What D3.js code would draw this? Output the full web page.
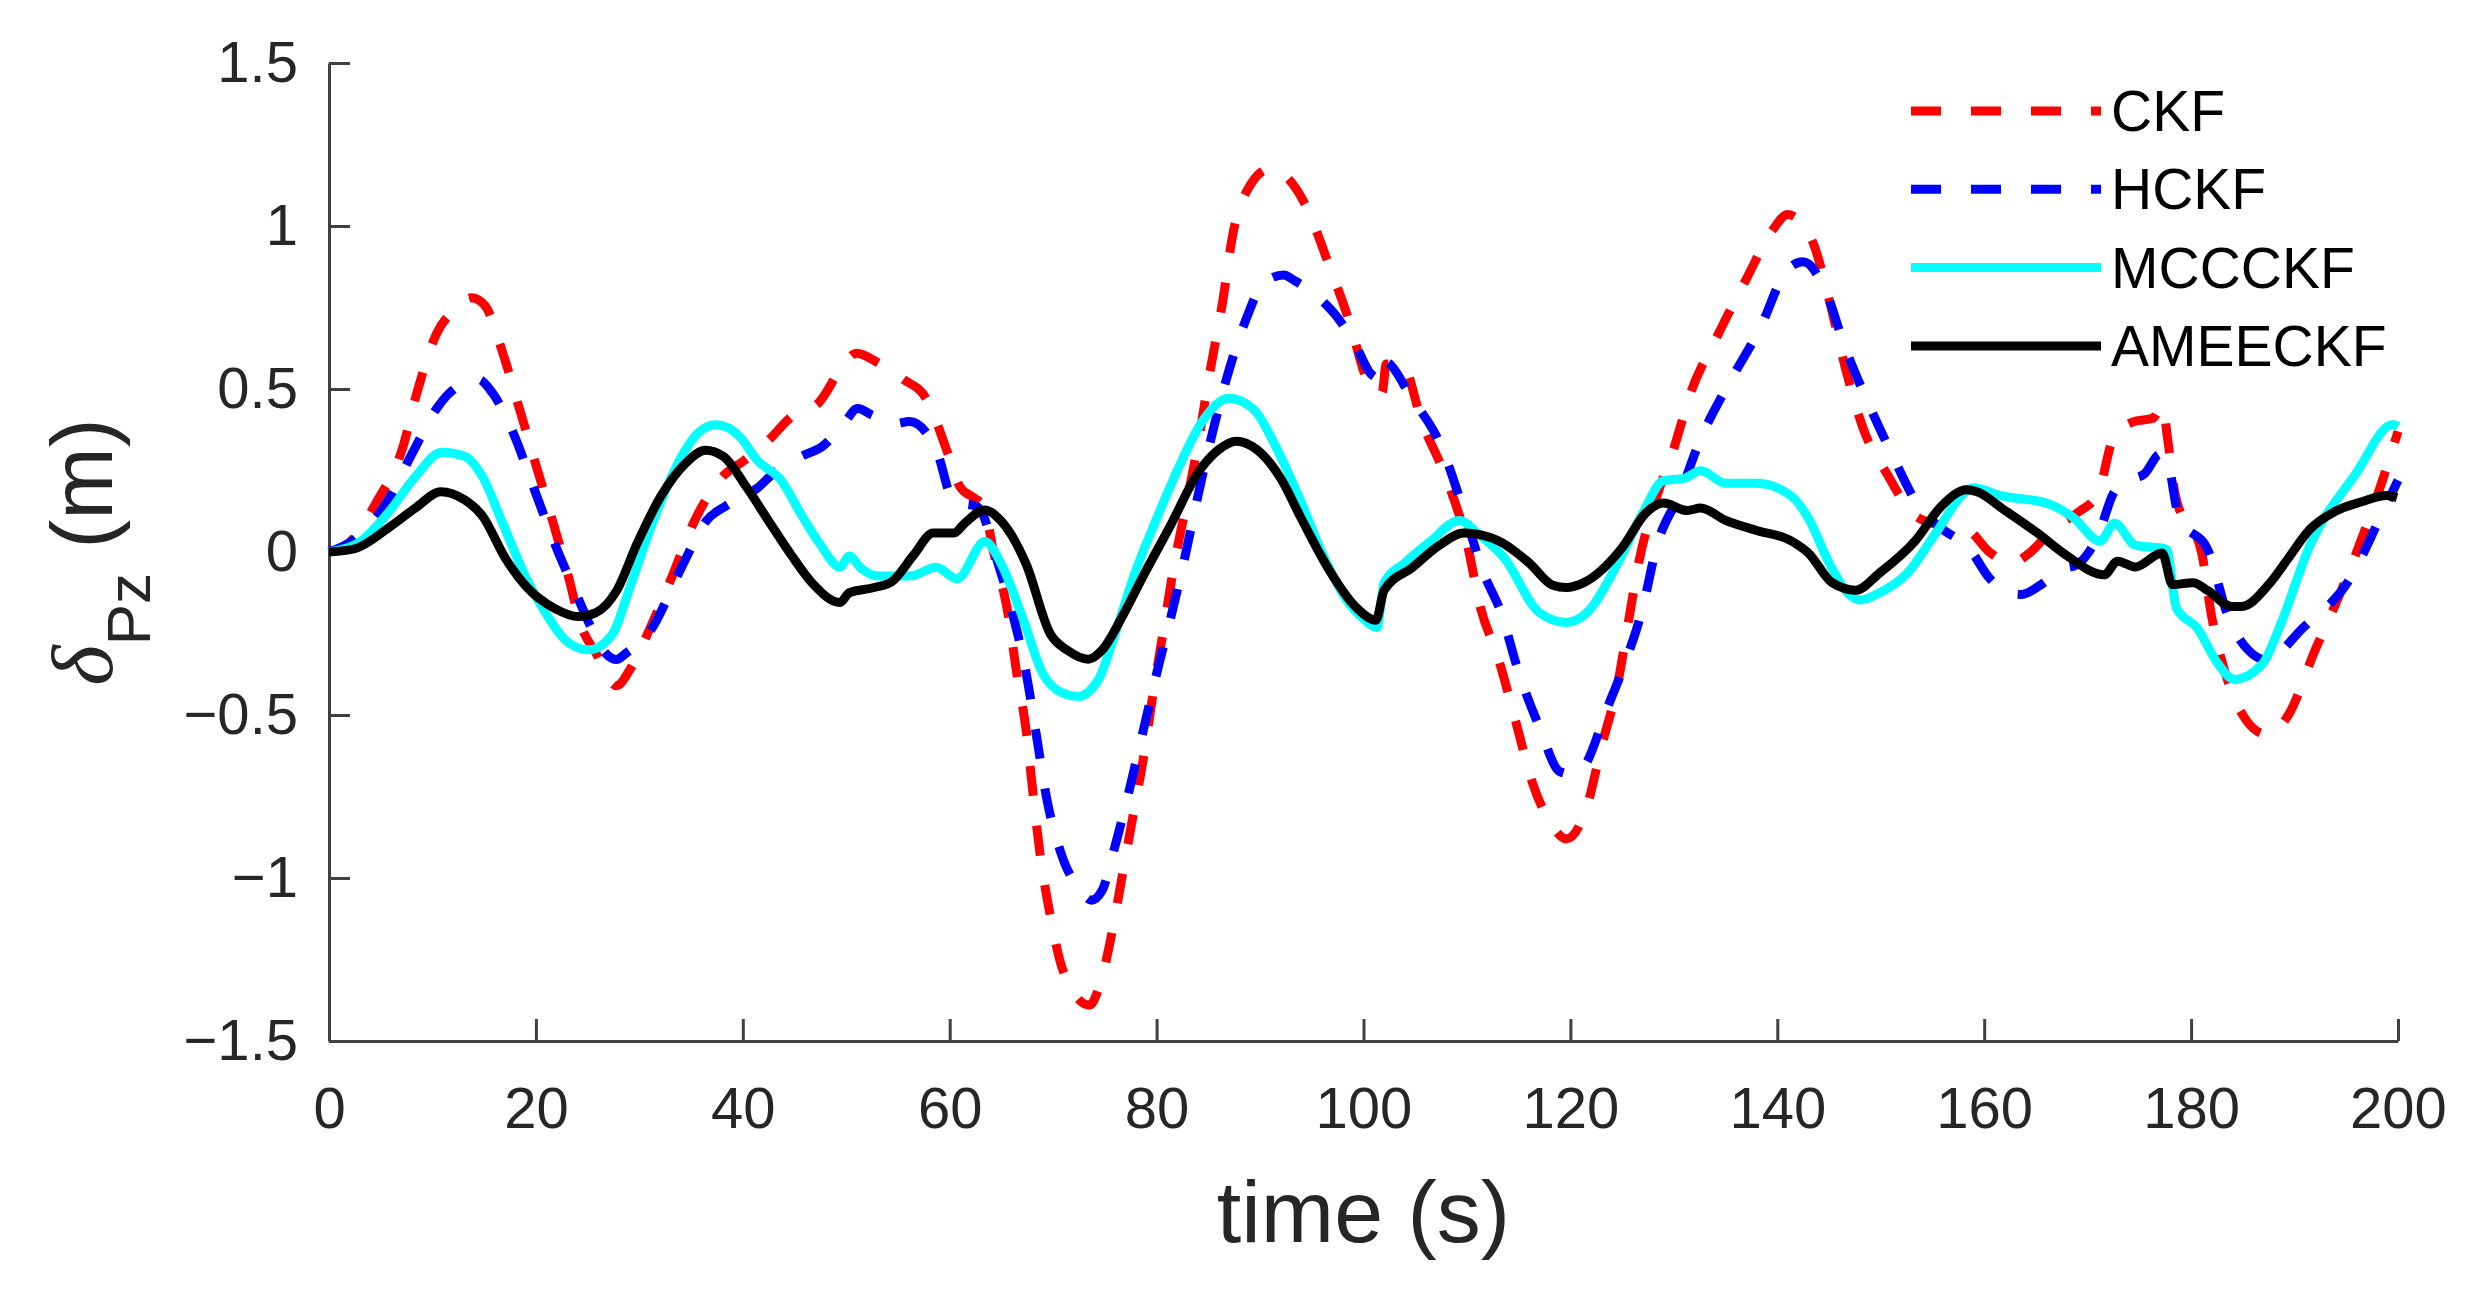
<!DOCTYPE html>
<html>
<head>
<meta charset="utf-8">
<script src="https://cdn.jsdelivr.net/npm/d3@7/dist/d3.min.js"></script>
<style>
  html, body { margin: 0; padding: 0; background: #fff; }
  svg { display: block; }
</style>
</head>
<body>
<svg id="chart" width="2485" height="1296"></svg>
<script>
// series: [time (s), error (m)]
const ckf = [[0,0],[2,0.03],[4.5,0.148],[7.1,0.318],[8.6,0.5],[10.4,0.67],[12,0.74],[13.8,0.78],[15.1,0.755],[16.8,0.61],[18.4,0.44],[20.1,0.257],[21.8,0.075],[23.1,-0.07],[24.4,-0.228],[25.8,-0.31],[27.8,-0.41],[29.1,-0.36],[30.8,-0.25],[33.1,-0.08],[35.4,0.1],[38.1,0.233],[40.1,0.28],[42.4,0.34],[44.7,0.415],[47.4,0.46],[49.7,0.573],[51,0.61],[53.1,0.58],[55.5,0.53],[57.7,0.472],[59.9,0.296],[61,0.2],[62.4,0.165],[63.3,0.14],[64.2,0.006],[65.7,-0.2],[66.4,-0.355],[67.4,-0.55],[68,-0.725],[68.7,-0.918],[69.7,-1.112],[71,-1.288],[73.5,-1.39],[74.7,-1.306],[75.7,-1.165],[76.7,-0.989],[77.7,-0.813],[78.7,-0.637],[79.7,-0.426],[80.7,-0.232],[81.7,-0.038],[82.7,0.12],[84,0.331],[85,0.525],[86.4,0.771],[87.4,0.98],[88.7,1.106],[91,1.176],[92.3,1.158],[94.3,1.07],[96.7,0.877],[98.7,0.7],[100.3,0.53],[101,0.49],[101.8,0.49],[102.2,0.577],[103.7,0.577],[105.7,0.394],[108,0.226],[110,0.028],[111.3,-0.17],[113,-0.323],[114.6,-0.506],[116.3,-0.705],[118.3,-0.842],[119.6,-0.88],[121.6,-0.78],[123,-0.598],[124.6,-0.4],[125.6,-0.216],[126.6,-0.033],[128.3,0.165],[130,0.318],[131.6,0.486],[134.3,0.669],[137,0.837],[139.6,0.99],[141,1.035],[143.3,0.96],[145,0.776],[146.6,0.562],[148.3,0.379],[150.6,0.24],[153.3,0.112],[156,0.08],[158.3,0.07],[160.5,0],[162.6,-0.034],[164.5,0],[166.6,0.07],[169,0.12],[171,0.18],[172.5,0.35],[174.5,0.4],[176.3,0.41],[177.2,0.45],[177.8,0.33],[178.5,0.17],[181,0],[182,-0.2],[183.6,-0.4],[185,-0.5],[186.4,-0.55],[187.5,-0.56],[189.4,-0.5],[192,-0.3],[194.5,-0.12],[196.6,0.05],[198.5,0.22],[200,0.37]];

const hckf = [[0,0],[2.5,0.04],[5.5,0.148],[8.1,0.306],[10.4,0.44],[11.4,0.48],[14.4,0.53],[15.8,0.488],[17.8,0.366],[19.8,0.196],[21.8,0.027],[24.1,-0.143],[25.1,-0.216],[26.8,-0.313],[27.8,-0.33],[28.6,-0.313],[31.1,-0.24],[34.1,-0.046],[36.4,0.093],[38.4,0.142],[41.4,0.196],[43.1,0.245],[45.7,0.294],[47.7,0.324],[49.7,0.39],[51.1,0.44],[52.5,0.42],[54.7,0.393],[56.1,0.4],[58.7,0.314],[60.4,0.155],[62.7,0.138],[64.7,-0.038],[66,-0.18],[67.4,-0.373],[68.4,-0.566],[69.4,-0.76],[70.7,-0.918],[72.7,-1.04],[73.7,-1.068],[74.7,-1.04],[76,-0.9],[77.4,-0.725],[78.7,-0.549],[80,-0.373],[81.4,-0.197],[82.7,-0.021],[84,0.173],[85.4,0.366],[86.7,0.525],[88.7,0.718],[90.3,0.824],[92.3,0.85],[93.3,0.833],[96,0.771],[97.3,0.727],[99.3,0.63],[100.7,0.547],[101.7,0.532],[102,0.585],[104.7,0.47],[107.6,0.318],[109.6,0.135],[111.6,-0.064],[113.3,-0.186],[115,-0.369],[117,-0.537],[119,-0.674],[120.3,-0.682],[121.3,-0.659],[123.6,-0.476],[125.3,-0.338],[127,-0.17],[128.3,0.013],[130.6,0.18],[132.6,0.348],[135.3,0.516],[138.3,0.684],[141,0.867],[142.5,0.89],[144.6,0.806],[146.6,0.623],[148.6,0.47],[150.9,0.312],[153.9,0.13],[156,0.07],[158.6,0.009],[160.5,-0.08],[162.3,-0.125],[163.6,-0.13],[165.5,-0.1],[167.6,-0.052],[168.9,-0.04],[171,0.05],[172.5,0.18],[174,0.22],[175.5,0.24],[177,0.3],[177.6,0.29],[178.8,0.11],[181.7,0],[183.6,-0.2],[185.5,-0.3],[187.2,-0.33],[190.9,-0.23],[195.4,-0.08],[198.2,0.1],[200,0.22]];

const mccckf = [[0,0],[2.8,0.027],[5.8,0.124],[8.4,0.233],[10.9,0.306],[13.1,0.294],[14.8,0.233],[16.8,0.087],[19.1,-0.083],[20.8,-0.18],[23.1,-0.277],[25.1,-0.3],[27.4,-0.252],[29.1,-0.107],[31.4,0.1],[34.1,0.294],[35.7,0.366],[37.4,0.39],[39.7,0.354],[41.4,0.281],[43.7,0.22],[45.7,0.112],[47.4,0.027],[49.4,-0.046],[50.3,-0.012],[51.3,-0.046],[53.1,-0.074],[56.1,-0.074],[58.7,-0.047],[60.7,-0.082],[63.4,0.032],[65,-0.038],[67,-0.197],[69,-0.373],[71,-0.434],[72.4,-0.443],[74.4,-0.39],[76,-0.25],[78,-0.056],[80,0.102],[82.4,0.278],[84.4,0.4],[87,0.472],[89.4,0.437],[91.4,0.331],[93.7,0.173],[96,-0.003],[98.3,-0.144],[100,-0.205],[101.3,-0.232],[102,-0.094],[104,-0.033],[106.3,0.028],[109.3,0.097],[111,0.058],[113.6,-0.018],[117,-0.186],[119.6,-0.216],[121.6,-0.186],[124.6,-0.033],[127,0.12],[129,0.219],[131,0.226],[132.6,0.249],[135,0.211],[138,0.211],[141.3,0.173],[143,0.104],[145,-0.033],[147,-0.132],[148,-0.147],[149.9,-0.125],[152.6,-0.064],[155.3,0.057],[158,0.179],[158.9,0.197],[161.6,0.173],[166.2,0.148],[168.6,0.106],[171.2,0.033],[172.6,0.088],[174.6,0.021],[177.6,0.009],[178.6,-0.173],[180.6,-0.234],[182.6,-0.343],[184.2,-0.391],[186.9,-0.343],[188.5,-0.234],[191.5,0.021],[195.9,0.239],[199.5,0.391],[200,0.385]];

const ameeckf = [[0,0],[2.5,0.01],[5.8,0.075],[8.4,0.136],[10.8,0.185],[13.1,0.16],[14.8,0.112],[17.1,-0.022],[19.1,-0.107],[21.8,-0.173],[24.1,-0.198],[25.8,-0.186],[27.8,-0.119],[29.8,0.027],[32.1,0.172],[34.4,0.27],[36.4,0.312],[38.1,0.294],[40.4,0.197],[42.4,0.1],[44.7,-0.01],[46.7,-0.095],[49.4,-0.155],[50.3,-0.125],[52.7,-0.109],[54.4,-0.091],[56.5,-0.01],[58.4,0.058],[60.4,0.058],[61.5,0.09],[63.4,0.129],[65,0.094],[67.4,-0.038],[69.7,-0.25],[71.4,-0.302],[73.4,-0.329],[74.7,-0.302],[76.7,-0.197],[78.7,-0.074],[81.4,0.085],[84,0.243],[86,0.314],[87.7,0.34],[89.7,0.314],[92,0.226],[94,0.102],[96.7,-0.056],[99.3,-0.17],[101.2,-0.209],[102,-0.117],[104.7,-0.048],[107.3,0.02],[109.7,0.058],[113,0.035],[116,-0.033],[118.3,-0.102],[119.6,-0.109],[121.3,-0.094],[125,0.013],[127.3,0.12],[129,0.15],[131.3,0.127],[132.6,0.135],[135,0.097],[138,0.066],[141.3,0.035],[143,-0.003],[145.3,-0.094],[147.6,-0.117],[149.9,-0.064],[153.3,0.033],[155.9,0.142],[158.3,0.191],[159.3,0.185],[161.9,0.13],[165.2,0.057],[167.9,-0.009],[171.6,-0.07],[172.9,-0.028],[174.6,-0.046],[177.2,-0.003],[178.2,-0.1],[180.2,-0.094],[181.6,-0.118],[183.9,-0.167],[184.9,-0.167],[187.5,-0.1],[189.2,-0.028],[191.5,0.07],[193.9,0.124],[196.5,0.154],[198.9,0.173],[199.9,0.167]];

const seriesNames = ['CKF', 'HCKF', 'MCCCKF', 'AMEECKF'];
const xTicks = [0, 20, 40, 60, 80, 100, 120, 140, 160, 180, 200];
const yTicks = [-1.5, -1, -0.5, 0, 0.5, 1, 1.5];

const svg = d3.select('#chart');
const font = '"Liberation Sans", Arial, sans-serif';
const axisColor = '#404040';

const margin = {left: 329, right: 2398, top: 63, bottom: 1041};

const x = d3.scaleLinear().domain([0, 200]).range([margin.left, margin.right]);
const y = d3.scaleLinear().domain([-1.5, 1.5]).range([margin.bottom, margin.top]);

const styles = [
  {data: ckf, color: '#ff0000', dash: '30,30'},
  {data: hckf, color: '#0000ff', dash: '30,30'},
  {data: mccckf, color: '#00ffff', dash: null},
  {data: ameeckf, color: '#000000', dash: null},
];

// axes, ticks pointing inside like MATLAB
const xAxis = svg.append('g')
  .attr('transform', `translate(0,${margin.bottom})`)
  .call(d3.axisBottom(x).tickValues(xTicks).tickFormat(d3.format('')).tickSizeInner(-22).tickSizeOuter(0).tickPadding(46));

const yAxis = svg.append('g')
  .attr('transform', `translate(${margin.left},0)`)
  .call(d3.axisLeft(y).tickValues(yTicks).tickFormat(d3.format('')).tickSizeInner(-21).tickSizeOuter(0).tickPadding(31));

[xAxis, yAxis].forEach((g) => {
  g.select('.domain').attr('stroke', axisColor).attr('stroke-width', 3);
  g.selectAll('.tick line').attr('stroke', axisColor).attr('stroke-width', 3);
  g.selectAll('.tick text')
    .attr('fill', '#262626')
    .attr('font-family', font)
    .attr('font-size', 58);
});

const line = d3.line()
  .x((d) => x(d[0]))
  .y((d) => y(d[1]))
  .curve(d3.curveMonotoneX);

svg.append('g')
  .selectAll('path')
  .data(styles)
  .enter()
  .append('path')
  .attr('d', (d) => line(d.data))
  .attr('fill', 'none')
  .attr('stroke', (d) => d.color)
  .attr('stroke-width', 9)
  .attr('stroke-linejoin', 'round')
  .attr('stroke-dasharray', (d) => d.dash);

// legend
const legend = svg.append('g')
  .selectAll('g')
  .data(styles)
  .enter()
  .append('g')
  .attr('transform', (d, i) => `translate(1911,${111 + i * 78.3})`);

legend.append('line')
  .attr('x1', 0)
  .attr('x2', 190)
  .attr('stroke', (d) => d.color)
  .attr('stroke-width', 9)
  .attr('stroke-dasharray', (d) => d.dash);

legend.append('text')
  .attr('x', 200)
  .attr('dy', '0.35em')
  .attr('font-family', font)
  .attr('font-size', 57)
  .attr('fill', '#000')
  .text((d, i) => seriesNames[i]);

// axis labels
svg.append('text')
  .attr('x', (margin.left + margin.right) / 2)
  .attr('y', 1242)
  .attr('text-anchor', 'middle')
  .attr('font-family', font)
  .attr('font-size', 88)
  .attr('fill', '#262626')
  .text('time (s)');

const yLabel = svg.append('text')
  .attr('transform', `translate(112,${(margin.top + margin.bottom) / 2}) rotate(-90)`)
  .attr('text-anchor', 'middle')
  .attr('font-family', font)
  .attr('font-size', 87)
  .attr('fill', '#262626');

yLabel.append('tspan')
  .attr('font-family', '"Liberation Serif", "DejaVu Serif", serif')
  .attr('font-style', 'italic')
  .text('δ');
yLabel.append('tspan')
  .attr('font-size', 62)
  .attr('dy', 38)
  .text('Pz');
yLabel.append('tspan')
  .attr('dy', -38)
  .text(' (m)');
</script>
</body>
</html>
